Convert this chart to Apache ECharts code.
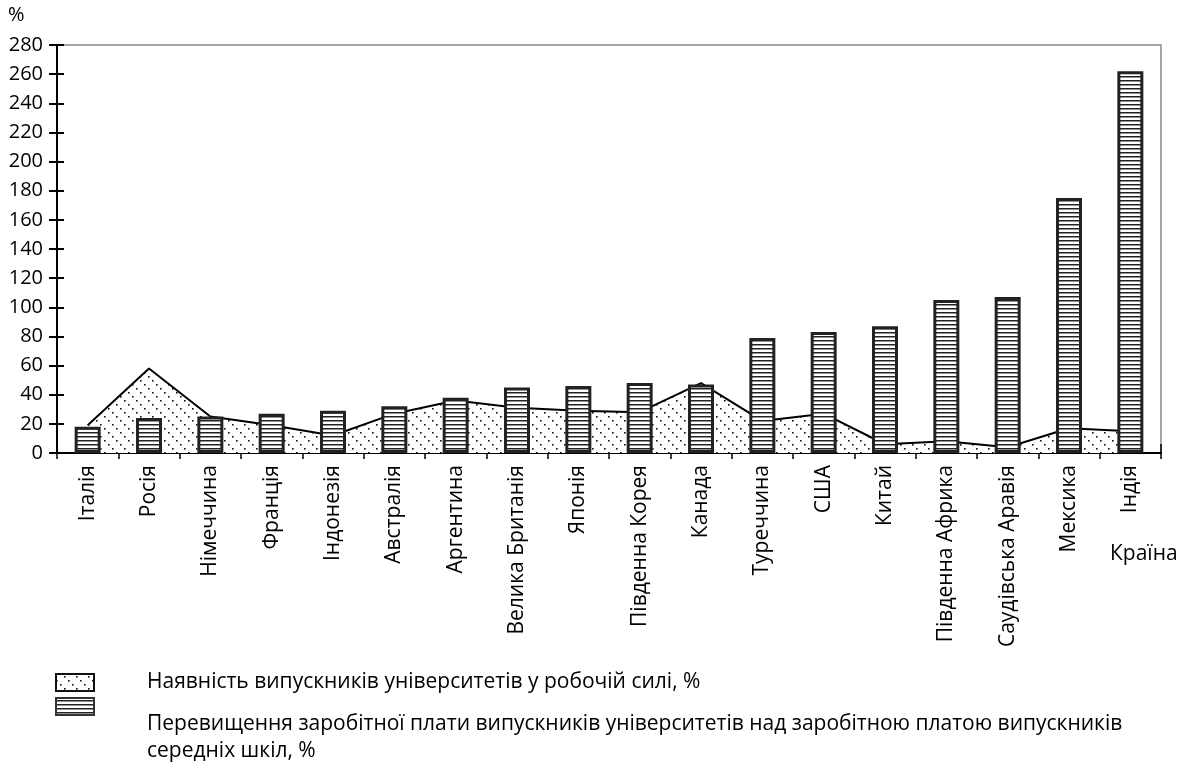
<!DOCTYPE html>
<html>
<head>
<meta charset="utf-8">
<script src="https://cdn.jsdelivr.net/npm/echarts@6/dist/echarts.min.js"></script>
<style>
html,body{margin:0;padding:0;background:#fff;}
#chart{width:1195px;height:769px;}
</style>
</head>
<body>
<div id="chart"></div>
<script>
const categories = ['Італія','Росія','Німеччина','Франція','Індонезія','Австралія','Аргентина','Велика Британія','Японія','Південна Корея','Канада','Туреччина','США','Китай','Південна Африка','Саудівська Аравія','Мексика','Індія'];
const graduatesShare = [19, 58, 25, 19, 12, 27, 36, 31, 29, 28, 48, 22, 27, 6, 8, 4, 17, 15];
const wagePremium = [18, 24, 25, 27, 29, 32, 38, 45, 46, 48, 47, 79, 83, 87, 105, 107, 175, 262];
const yTicks = {min: 0, max: 280, interval: 20};
const seriesNames = ['Наявність випускників університетів у робочій силі, %', 'Перевищення заробітної плати випускників університетів над заробітною платою випускників середніх шкіл, %'];
const FONT = 'Open Sans';

function stripePattern(){
  const c = document.createElement('canvas');
  c.width = 8; c.height = 4;
  const g = c.getContext('2d');
  g.fillStyle = '#fff'; g.fillRect(0,0,8,4);
  g.fillStyle = '#222'; g.fillRect(0,0,8,1.5);
  return {image: c, repeat: 'repeat'};
}
function dotPattern(){
  const c = document.createElement('canvas');
  c.width = 12; c.height = 12;
  const g = c.getContext('2d');
  g.fillStyle = '#fff'; g.fillRect(0,0,12,12);
  g.fillStyle = '#111';
  for (let i=0;i<3;i++){ g.fillRect(i*4, i*4, 1.6, 1.6); }
  return {image: c, repeat: 'repeat'};
}
const stripes = stripePattern();
const dots = dotPattern();

const chart = echarts.init(document.getElementById('chart'), null, {renderer:'canvas'});
const axisCommon = {
  type: 'category', data: categories, boundaryGap: true, position: 'bottom'
};
chart.setOption({
  animation: false,
  backgroundColor: '#fff',
  textStyle: {fontFamily: FONT},
  grid: {left: 57, right: 34, top: 45, bottom: 316, show: true, borderColor: '#8a8a8a', borderWidth: 1.5, containLabel: false},
  xAxis: [
    Object.assign({}, axisCommon, {
      axisLine: {show: true, lineStyle: {color: '#000', width: 2}},
      axisTick: {show: true, inside: false, length: 6, lineStyle: {color: '#000', width: 1.5}},
      axisLabel: {show: true, rotate: 90, interval: 0, margin: 12, color: '#000', fontSize: 21, fontFamily: FONT},
      splitLine: {show: false}
    }),
    Object.assign({}, axisCommon, {
      axisLine: {show: false},
      axisTick: {show: true, inside: true, length: 9, lineStyle: {color: '#000', width: 1.5}},
      axisLabel: {show: false},
      splitLine: {show: false}
    })
  ],
  yAxis: [
    {
      type: 'value', min: yTicks.min, max: yTicks.max, interval: yTicks.interval, position: 'left',
      axisLine: {show: true, lineStyle: {color: '#000', width: 2}},
      axisTick: {show: true, inside: false, length: 8, lineStyle: {color: '#000', width: 2}},
      axisLabel: {show: true, margin: 14, color: '#000', fontSize: 20, fontFamily: FONT},
      splitLine: {show: false}
    },
    {
      type: 'value', min: yTicks.min, max: yTicks.max, interval: yTicks.interval, position: 'left', offset: 0,
      axisLine: {show: false},
      axisTick: {show: true, inside: true, length: 7, lineStyle: {color: '#000', width: 2}},
      axisLabel: {show: false},
      splitLine: {show: false}
    }
  ],
  series: [
    {
      name: seriesNames[0], type: 'line', data: graduatesShare, xAxisIndex: 0, yAxisIndex: 0,
      symbol: 'none', smooth: false,
      lineStyle: {color: '#000', width: 2},
      areaStyle: {color: dots, opacity: 1},
      z: 1
    },
    {
      name: seriesNames[1], type: 'bar', data: wagePremium, xAxisIndex: 0, yAxisIndex: 0,
      barWidth: 26,
      itemStyle: {color: stripes, borderColor: '#222', borderWidth: 3},
      z: 3
    }
  ],
  graphic: [
    {type: 'text', left: 8, top: 5, style: {text: '%', fontSize: 20, fontFamily: FONT, fill: '#000'}},
    {type: 'text', left: 1110, top: 544, style: {text: 'Країна', fontSize: 21, fontFamily: FONT, fill: '#000'}},
    {type: 'rect', shape: {x: 56, y: 674, width: 38, height: 17}, style: {fill: dots, stroke: '#111', lineWidth: 2}},
    {type: 'text', left: 147, top: 672, style: {text: seriesNames[0], fontSize: 21, fontFamily: FONT, fill: '#000'}},
    {type: 'rect', shape: {x: 56, y: 698, width: 38, height: 17}, style: {fill: stripes, stroke: '#333', lineWidth: 2}},
    {type: 'text', left: 147, top: 711, style: {text: 'Перевищення заробітної плати випускників університетів над заробітною платою випускників\nсередніх шкіл, %', fontSize: 21, lineHeight: 27, fontFamily: FONT, fill: '#000'}}
  ]
});
</script>
</body>
</html>
